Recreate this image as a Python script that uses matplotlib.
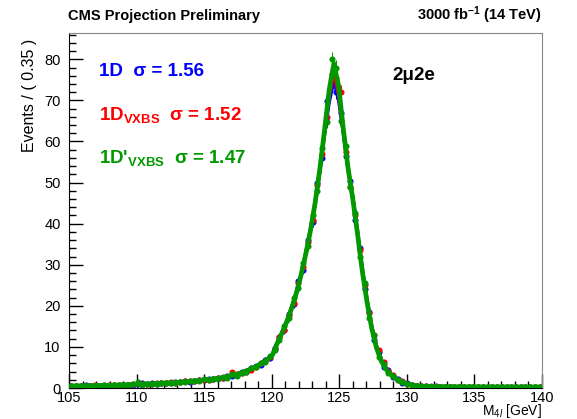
import numpy as np
import matplotlib
matplotlib.use("Agg")
import matplotlib.pyplot as plt
from matplotlib.ticker import MultipleLocator

plt.rcParams['font.family'] = ['Liberation Sans', 'DejaVu Sans']
plt.rcParams['mathtext.fontset'] = 'custom'
plt.rcParams['mathtext.rm'] = 'Liberation Sans'
plt.rcParams['mathtext.it'] = 'Liberation Sans:italic'
plt.rcParams['mathtext.bf'] = 'Liberation Sans:bold'

# ---- data ----
mass_low, mass_high, bin_width = 105.0, 140.0, 0.35

blue_points = [0.6, 0.55, 0.5, 0.65, 0.45, 0.6, 0.55, 0.7, 0.55, 0.75,
               0.7, 0.75, 0.85, 0.8, 1.0, 1.25, 0.95, 1.1, 0.9, 1.15,
               1.3, 1.1, 1.45, 1.35, 1.7, 1.5, 1.65, 1.95, 1.85, 2.1,
               2.1, 2.45, 2.4, 2.9, 2.8, 3.2, 3.9, 3.8, 4.8, 5.4,
               5.5, 6.9, 7.2, 9.8, 12.4, 14.0, 18.0, 20.4, 26.0, 28.8,
               36.0, 40.5, 50.0, 56.0, 69.8, 74.3, 72.0, 67.0, 56.5, 50.5,
               41.0, 34.0, 24.0, 18.5, 11.8, 8.8, 5.2, 4.3, 2.7, 2.3,
               1.3, 1.1, 0.7, 0.6, 0.4, 0.45, 0.3, 0.4, 0.35, 0.3,
               0.3, 0.35, 0.3, 0.25, 0.3, 0.3, 0.35, 0.3, 0.25, 0.3,
               0.3, 0.3, 0.25, 0.3, 0.35, 0.3, 0.25, 0.3, 0.3, 0.3]

red_points = [0.5, 0.6, 0.55, 0.6, 0.5, 0.65, 0.6, 0.6, 0.7, 0.65,
              0.8, 0.7, 0.8, 0.95, 1.1, 0.9, 1.05, 1.0, 1.15, 1.1,
              1.25, 1.35, 1.2, 1.4, 1.6, 1.65, 1.6, 1.85, 2.0, 2.05,
              2.2, 2.35, 2.55, 2.7, 4.0, 3.3, 3.7, 4.1, 4.5, 5.1,
              6.0, 6.5, 7.6, 9.4, 12.5, 14.2, 17.8, 20.8, 25.6, 29.5,
              35.5, 41.0, 49.5, 57.0, 66.0, 76.5, 75.5, 72.0, 57.5, 49.0,
              42.0, 33.5, 25.0, 18.2, 12.8, 9.2, 6.3, 4.2, 3.1, 2.0,
              1.6, 1.0, 0.8, 0.55, 0.5, 0.4, 0.35, 0.35, 0.3, 0.35,
              0.3, 0.3, 0.35, 0.3, 0.3, 0.25, 0.3, 0.3, 0.35, 0.3,
              0.25, 0.3, 0.3, 0.3, 0.25, 0.3, 0.3, 0.35, 0.3, 0.25]

green_points = [0.55, 0.45, 0.6, 0.5, 0.55, 0.6, 0.5, 0.65, 0.6, 0.7,
                0.7, 0.8, 0.75, 0.9, 1.5, 0.85, 1.0, 1.05, 1.0, 1.2,
                1.15, 1.3, 1.25, 1.5, 1.4, 1.6, 1.75, 1.6, 2.2, 1.9,
                2.3, 2.1, 2.6, 2.5, 3.3, 2.9, 3.6, 4.0, 4.9, 5.0,
                6.1, 6.4, 7.8, 9.2, 11.8, 15.2, 17.0, 21.8, 24.3, 30.5,
                34.5, 42.0, 48.0, 58.5, 64.8, 80.0, 78.0, 65.0, 58.8, 49.0,
                42.5, 32.0, 25.5, 17.0, 12.8, 7.6, 5.9, 3.7, 3.0, 1.9,
                1.5, 0.9, 0.8, 0.5, 0.5, 0.35, 0.4, 0.3, 0.35, 0.3,
                0.3, 0.35, 0.25, 0.3, 0.3, 0.35, 0.25, 0.3, 0.3, 0.25,
                0.3, 0.25, 0.3, 0.3, 0.25, 0.3, 0.3, 0.25, 0.3, 0.25]

# fit curves, sampled at the bin edges (105.00 ... 140.00)
green_curve = [0.50, 0.51, 0.52, 0.54, 0.56, 0.58, 0.60, 0.62, 0.65, 0.68,
               0.71, 0.75, 0.79, 0.83, 0.87, 0.92, 0.97, 1.02, 1.07, 1.13,
               1.19, 1.26, 1.33, 1.41, 1.49, 1.58, 1.67, 1.77, 1.88, 2.00,
               2.13, 2.28, 2.45, 2.65, 2.90, 3.20, 3.55, 3.95, 4.40, 4.90,
               5.50, 6.20, 7.00, 8.00, 10.8, 13.3, 16.0, 19.2, 22.8, 27.2,
               32.3, 38.0, 44.8, 53.0, 62.5, 72.5, 79.0, 73.5, 63.0, 53.5,
               46.0, 37.5, 28.5, 21.0, 14.5, 9.8, 6.6, 4.6, 3.3, 2.4,
               1.7, 1.2, 0.85, 0.62, 0.50, 0.42, 0.38, 0.35, 0.33, 0.32,
               0.31, 0.30, 0.30, 0.29, 0.29, 0.28, 0.28, 0.28, 0.27, 0.27,
               0.27, 0.26, 0.26, 0.26, 0.26, 0.25, 0.25, 0.25, 0.25, 0.25, 0.25]

red_curve = [0.50, 0.51, 0.52, 0.54, 0.56, 0.58, 0.60, 0.62, 0.65, 0.68,
             0.71, 0.75, 0.79, 0.83, 0.87, 0.92, 0.97, 1.02, 1.07, 1.13,
             1.19, 1.26, 1.33, 1.41, 1.49, 1.58, 1.67, 1.77, 1.88, 2.00,
             2.13, 2.28, 2.45, 2.65, 2.90, 3.20, 3.55, 3.95, 4.40, 4.90,
             5.50, 6.20, 7.00, 8.10, 10.9, 13.4, 16.1, 19.3, 22.9, 27.3,
             32.4, 38.1, 44.8, 52.8, 62.0, 71.0, 77.0, 71.5, 62.5, 53.5,
             46.2, 37.8, 28.8, 21.3, 14.8, 10.0, 6.8, 4.8, 3.4, 2.5,
             1.8, 1.25, 0.88, 0.64, 0.51, 0.43, 0.38, 0.35, 0.33, 0.32,
             0.31, 0.30, 0.30, 0.29, 0.29, 0.28, 0.28, 0.28, 0.27, 0.27,
             0.27, 0.26, 0.26, 0.26, 0.26, 0.25, 0.25, 0.25, 0.25, 0.25, 0.25]

blue_curve = [0.52, 0.53, 0.54, 0.56, 0.58, 0.60, 0.62, 0.64, 0.67, 0.70,
              0.73, 0.77, 0.81, 0.85, 0.89, 0.94, 0.99, 1.04, 1.09, 1.15,
              1.21, 1.28, 1.35, 1.43, 1.51, 1.60, 1.69, 1.79, 1.90, 2.02,
              2.15, 2.30, 2.47, 2.67, 2.92, 3.22, 3.58, 3.98, 4.45, 4.95,
              5.55, 6.30, 7.10, 8.20, 11.0, 13.5, 16.2, 19.4, 23.0, 27.4,
              32.5, 38.2, 44.8, 52.5, 61.5, 69.5, 74.8, 70.0, 62.0, 53.3,
              46.3, 38.0, 29.0, 21.5, 15.0, 10.2, 6.9, 4.9, 3.5, 2.55,
              1.85, 1.3, 0.9, 0.66, 0.52, 0.44, 0.39, 0.36, 0.34, 0.33,
              0.32, 0.31, 0.31, 0.30, 0.30, 0.29, 0.29, 0.29, 0.28, 0.28,
              0.28, 0.27, 0.27, 0.27, 0.27, 0.26, 0.26, 0.26, 0.26, 0.26, 0.26]

x_ticks = [105, 110, 115, 120, 125, 130, 135, 140]
y_ticks = [0, 10, 20, 30, 40, 50, 60, 70, 80]

# ---- plot ----
W, H = 577, 419
fig = plt.figure(figsize=(W / 100, H / 100), dpi=100)
ax = fig.add_axes([69 / W, 1 - 388 / H, (542 - 69) / W, (388 - 33) / H])

n_bins = len(green_points)
edges = np.linspace(mass_low, mass_high, n_bins + 1)
centers = 0.5 * (edges[:-1] + edges[1:])

BLUE = '#0000ff'
RED = '#ff0000'
GREEN = '#009900'

series = [(blue_points, blue_curve, BLUE, 2.4),
          (red_points, red_curve, RED, 2.6),
          (green_points, green_curve, GREEN, 3.4)]
for pts, curve, col, lw in series:
    y = np.asarray(pts)
    ax.errorbar(centers, y, yerr=0.2 * np.sqrt(y), fmt='o', color=col,
                ms=4.4, mew=0, elinewidth=0.8, capsize=0, zorder=2)
    ax.plot(edges, curve, color=col, lw=lw, zorder=3, solid_joinstyle='round')

ax.set_xlim(mass_low, mass_high)
ax.set_ylim(0, 86.4)
ax.set_xticks(x_ticks)
ax.set_yticks(y_ticks)
ax.xaxis.set_minor_locator(MultipleLocator(1))
ax.yaxis.set_minor_locator(MultipleLocator(2))
ax.tick_params(which='both', direction='in', top=False, right=False,
               labelsize=10.5, width=1.0, color='black')
ax.tick_params(which='major', length=10)
ax.tick_params(which='minor', length=5)
ax.tick_params(axis='x', pad=2)
ax.tick_params(axis='y', pad=6)
for s in ['top', 'right']:
    ax.spines[s].set_color('#888888')
for s in ['left', 'bottom']:
    ax.spines[s].set_color('black')

ax.set_ylabel('Events / ( 0.35 )', fontsize=11.5, loc='top')
ax.yaxis.set_label_coords((37 - 69) / 473, (388 - 39) / 355)
fig.text(542 / W, 1 - 415 / H, r'M$_{4l}$ [GeV]', fontsize=10,
         ha='right', va='baseline')

fig.text(68 / W, 1 - 20 / H, 'CMS Projection Preliminary', fontsize=10.5,
         fontweight='bold', ha='left', va='baseline')
fig.text(542 / W, 1 - 20 / H, r'3000 fb$^{\mathbf{-1}}$ (14 TeV)', fontsize=10.5,
         fontweight='bold', ha='right', va='baseline')

fs = 13.5
fig.text(99 / W, 1 - 76 / H, '1D  σ = 1.56', color=BLUE, fontsize=fs,
         fontweight='bold', ha='left', va='baseline')
fig.text(99 / W, 1 - 120 / H, r'1D$_{\mathbf{VXBS}}$  σ = 1.52', color=RED,
         fontsize=fs, fontweight='bold', ha='left', va='baseline')
fig.text(99 / W, 1 - 163 / H, r"1D'$_{\mathbf{VXBS}}$  σ = 1.47", color=GREEN,
         fontsize=fs, fontweight='bold', ha='left', va='baseline')
fig.text(392 / W, 1 - 80 / H, '2μ2e', color='black', fontsize=fs,
         fontweight='bold', ha='left', va='baseline')

fig.savefig('out.png', dpi=100)
